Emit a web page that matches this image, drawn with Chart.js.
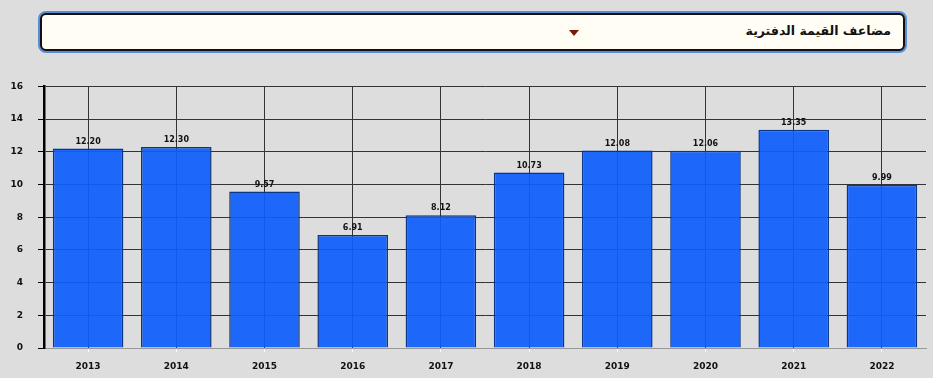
<!DOCTYPE html>
<html lang="ar">
<head>
<meta charset="utf-8">
<script src="https://cdn.jsdelivr.net/npm/chart.js@4"></script>
<style>
    html, body { margin: 0; padding: 0; background: #dddddd; width: 933px; height: 378px; overflow: hidden; }
    #selectBox {
        position: absolute; left: 40px; top: 13px; width: 861px; height: 34px;
        background: #fffdf4; border: 2px solid #111; border-radius: 6px;
        box-shadow: 0 0 0 2px #5b8ad6;
        font-family: "DejaVu Sans", sans-serif; font-weight: bold; font-size: 12.5px;
    }
    #selectBox .label { position: absolute; right: 12px; top: 8px; direction: rtl; color: #111; }
    #selectBox .arrow {
        position: absolute; left: 527px; top: 15px; width: 0; height: 0;
        border-left: 5px solid transparent; border-right: 5px solid transparent;
        border-top: 6px solid #7a1c00;
    }
    #chartWrap { position: absolute; left: 0; top: 66px; width: 933px; height: 312px; }
</style>
</head>
<body>
<div id="selectBox"><span class="label">مضاعف القيمة الدفترية</span><span class="arrow"></span></div>
<div id="chartWrap"><canvas id="pbChart" width="933" height="312"></canvas></div>
<script>
// Data
const years = ['2013', '2014', '2015', '2016', '2017', '2018', '2019', '2020', '2021', '2022'];
const pbValues = [12.20, 12.30, 9.57, 6.91, 8.12, 10.73, 12.08, 12.06, 13.35, 9.99];
const yTicks = [0, 2, 4, 6, 8, 10, 12, 14, 16];

// Value labels above bars
const valueLabels = {
    id: 'valueLabels',
    afterDatasetsDraw(chart) {
        const ctx = chart.ctx;
        const meta = chart.getDatasetMeta(0);
        ctx.save();
        ctx.font = 'bold 8px "DejaVu Sans"';
        ctx.fillStyle = '#111';
        ctx.textAlign = 'center';
        ctx.textBaseline = 'bottom';
        meta.data.forEach((bar, i) => {
            ctx.fillText(pbValues[i].toFixed(2), bar.x, bar.y - 3);
        });
        ctx.restore();
    }
};

const ctx = document.getElementById('pbChart').getContext('2d');
new Chart(ctx, {
    type: 'bar',
    data: {
        labels: years,
        datasets: [{
            data: pbValues,
            backgroundColor: 'rgba(15, 95, 251, 0.93)',
            borderColor: '#0a3487',
            borderWidth: 1.5,
            categoryPercentage: 0.8,
            barPercentage: 1.0
        }]
    },
    options: {
        responsive: false,
        animation: false,
        layout: { padding: { top: 9, right: 7, left: 0, bottom: 0 } },
        plugins: {
            legend: { display: false },
            tooltip: { enabled: false }
        },
        scales: {
            x: {
                grid: { offset: false, color: '#333', tickColor: '#ffffff', tickLength: 4, lineWidth: 1 },
                border: { color: '#999', width: 1 },
                ticks: { color: '#111', font: { family: 'DejaVu Sans', size: 9, weight: 'bold' }, padding: 9, maxRotation: 0, autoSkip: false },
                afterFit: (scale) => { scale.height = 30; }
            },
            y: {
                min: 0,
                max: 16,
                afterBuildTicks: (scale) => { scale.ticks = yTicks.map(v => ({ value: v })); },
                grid: { color: '#333', tickColor: '#000', tickLength: 6, lineWidth: 1 },
                border: { color: '#000', width: 2.5 },
                ticks: { color: '#111', font: { family: 'DejaVu Sans', size: 9, weight: 'bold' }, padding: 15, autoSkip: false },
                afterFit: (scale) => { scale.width = 44; }
            }
        }
    },
    plugins: [valueLabels]
});
</script>
</body>
</html>
